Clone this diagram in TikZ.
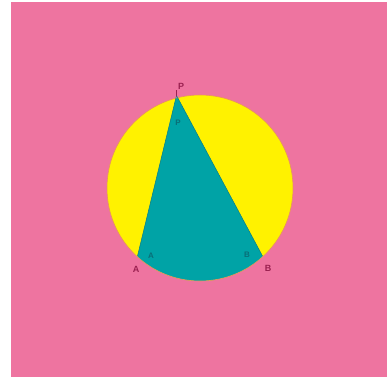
\documentclass[tikz,border=0pt]{standalone}
\usepackage{fontspec}
\setmainfont{Liberation Sans}
\begin{document}
\begin{tikzpicture}[x=1pt,y=-1pt,
  outlbl/.style={text=labelred,font=\bfseries\fontsize{9}{9}\selectfont,inner sep=0pt},
  inlbl/.style={text=innerteal,font=\bfseries\fontsize{8}{8}\selectfont,inner sep=0pt}]
\definecolor{bgpink}{HTML}{EE74A0}
\definecolor{circyellow}{HTML}{FFF200}
\definecolor{triteal}{HTML}{00A3A6}
\definecolor{labelred}{HTML}{9A2050}
\definecolor{innerteal}{HTML}{0A6E78}
\definecolor{rimorange}{HTML}{E8955A}
\useasboundingbox (0,0) rectangle (391,380);
\fill[white] (0,0) rectangle (391,380);
\fill[bgpink] (11,2) rectangle (387,377);
\coordinate (O) at (200,188);
\coordinate (P) at (176.5,95.5);
\coordinate (A) at (137.5,256);
\coordinate (B) at (262.5,256);
\coordinate (Ptick) at (176.5,90);
\fill[circyellow] (O) circle[radius=93];
% teal region: triangle PAB plus lower segment below AB
\begin{scope}
  \clip (O) circle[radius=93];
  \fill[triteal] (P) -- (A) -- (137.5,300) -- (262.5,300) -- (B) -- cycle;
\end{scope}
\draw[rimorange,line width=0.6pt] (O) circle[radius=93];
\draw[innerteal!70!triteal,line width=0.5pt] (A) -- (P) -- (B);
\node[outlbl] (lP) at (181,86) {P};
\node[outlbl] (lA) at (136,269) {A};
\node[outlbl] (lB) at (268,268) {B};
\node[inlbl] (iP) at (178,123) {P};
\node[inlbl] (iA) at (151,256) {A};
\node[inlbl] (iB) at (247,255) {B};
\draw[labelred,line width=0.8pt] (Ptick) -- (P);
\end{tikzpicture}
\end{document}
